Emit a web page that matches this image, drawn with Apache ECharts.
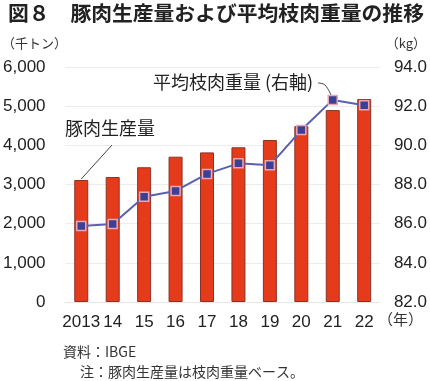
<!DOCTYPE html>
<html><head><meta charset="utf-8">
<script src="https://cdn.jsdelivr.net/npm/echarts@6/dist/echarts.min.js"></script>
<style>html,body{margin:0;padding:0;background:#fff}#c{width:430px;height:381px}</style>
</head><body><div id="c"></div>
<script>
const categories = ['2013','14','15','16','17','18','19','20','21','22'];
const porkProduction = [3115, 3190, 3440, 3710, 3820, 3950, 4135, 4490, 4900, 5180];
const carcassWeight = [85.88, 85.98, 87.38, 87.67, 88.54, 89.08, 88.98, 90.78, 92.32, 92.05];
const leftTicks = {min: 0, max: 6000, interval: 1000};
const rightTicks = {min: 82, max: 94, interval: 2};

const FONT = '"Noto Sans CJK JP", "Noto Sans", sans-serif';
const NUMFONT = 'Arial, "Liberation Sans", sans-serif';
const chart = echarts.init(document.getElementById('c'), null, {renderer: 'canvas'});
const option = {
  animation: false,
  backgroundColor: '#fff',
  grid: {left: 65, right: 48, top: 67, bottom: 79},
  xAxis: {
    type: 'category', data: categories,
    axisLine: {show: true, lineStyle: {color: '#e6e6e6'}},
    axisTick: {show: false},
    axisLabel: {color: '#222', fontSize: 17, fontFamily: NUMFONT, margin: 12, interval: 0}
  },
  yAxis: [{
    type: 'value', min: leftTicks.min, max: leftTicks.max, interval: leftTicks.interval,
    axisLine: {show: false}, axisTick: {show: false},
    splitLine: {lineStyle: {color: '#ececec'}},
    axisLabel: {color: '#222', fontSize: 17, fontFamily: NUMFONT, margin: 20,
      formatter: v => v.toLocaleString('en-US')}
  }, {
    type: 'value', min: rightTicks.min, max: rightTicks.max, interval: rightTicks.interval,
    axisLine: {show: false}, axisTick: {show: false}, splitLine: {show: false},
    axisLabel: {color: '#222', fontSize: 17, fontFamily: NUMFONT, margin: 14,
      formatter: v => v.toFixed(1)}
  }],
  series: [{
    type: 'bar', data: porkProduction, barWidth: 14,
    itemStyle: {color: '#e63b1b', borderColor: '#8a3325', borderWidth: 1}
  }, {
    type: 'line', yAxisIndex: 1, data: carcassWeight,
    symbol: 'rect', symbolSize: 9,
    lineStyle: {color: '#5a60ad', width: 2},
    itemStyle: {color: '#3c3f96', borderColor: '#e9a7b4', borderWidth: 1.5}
  }]
};
chart.setOption(option);

const pBar = chart.convertToPixel({gridIndex: 0}, [0, porkProduction[0]]);
const pLine = chart.convertToPixel({xAxisIndex: 0, yAxisIndex: 1}, [8, carcassWeight[8]]);

chart.setOption({graphic: [
  {type: 'text', left: 8, top: 3, style: {text: '図８　豚肉生産量および平均枝肉重量の推移', font: 'bold 20.8px ' + FONT, fill: '#222'}},
  {type: 'text', left: 2, top: 37, style: {text: '（千トン）', font: '13px ' + FONT, fill: '#333'}},
  {type: 'text', right: 4, top: 37, style: {text: '（kg）', font: '13px ' + FONT, fill: '#333'}},
  {type: 'text', left: 378, top: 312, style: {text: '（年）', font: '15px ' + FONT, fill: '#333'}},
  {type: 'text', left: 65, top: 119, style: {text: '豚肉生産量', font: '18px ' + FONT, fill: '#222'}},
  {type: 'text', left: 153, top: 73, style: {text: '平均枝肉重量 (右軸)', font: '18px ' + FONT, fill: '#222'}},
  {type: 'text', left: 63, top: 345, style: {text: '資料：IBGE', font: '14px ' + FONT, fill: '#333'}},
  {type: 'text', left: 80, top: 365, style: {text: '注：豚肉生産量は枝肉重量ベース。', font: '14px ' + FONT, fill: '#333'}},
  {type: 'polyline', shape: {points: [[112, 145], [pBar[0], pBar[1] - 1]]}, style: {stroke: '#444', lineWidth: 1}},
  {type: 'polyline', shape: {points: [[318, 83], [325, 85], [pLine[0] - 1, pLine[1] - 3]], smooth: 0.4}, style: {stroke: '#444', lineWidth: 1, fill: null}}
]});
</script></body></html>
